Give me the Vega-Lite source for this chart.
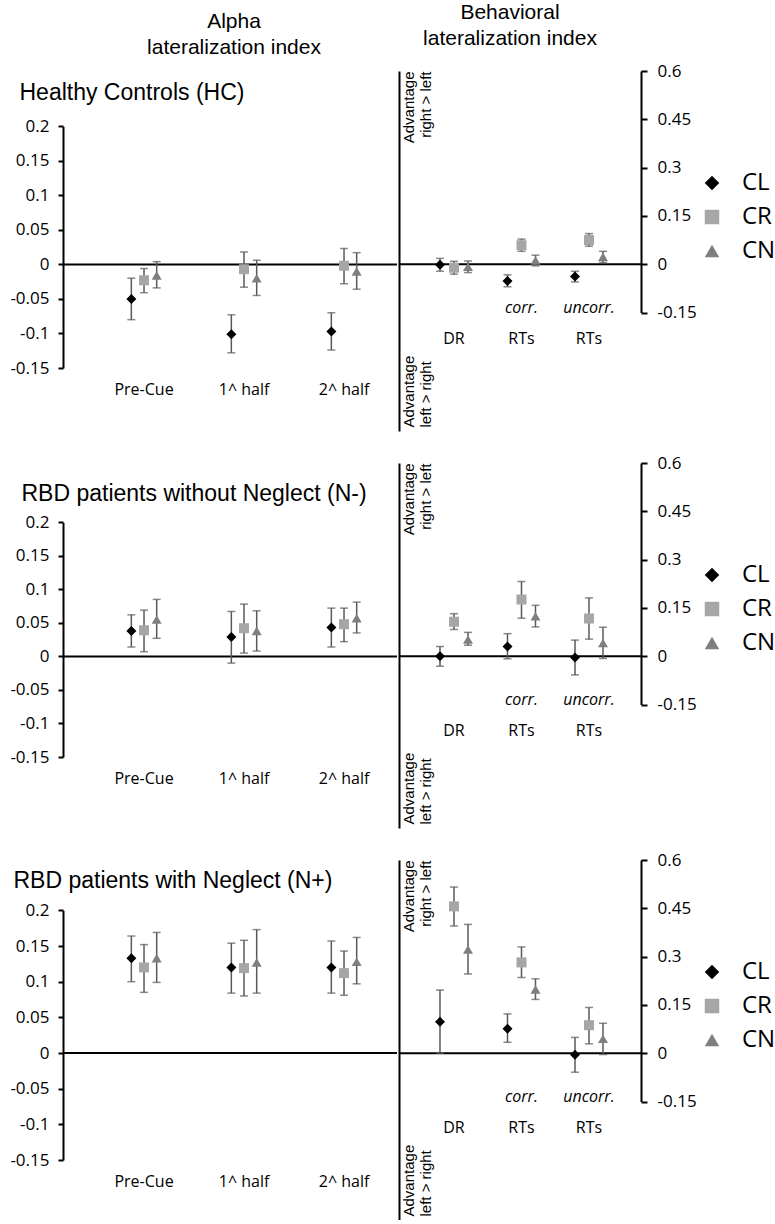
{
"$schema": "https://vega.github.io/schema/vega-lite/v6.json",
"background": "#ffffff",
"padding": {"left": 9, "top": 2, "right": 0, "bottom": 0},
"datasets": {
"pts": [
{"p":"HC","s":"a","m":"Pre-Cue","c":"CL","v":-0.050,"lo":-0.080,"hi":-0.020},
{"p":"HC","s":"a","m":"Pre-Cue","c":"CR","v":-0.023,"lo":-0.041,"hi":-0.006},
{"p":"HC","s":"a","m":"Pre-Cue","c":"CN","v":-0.016,"lo":-0.034,"hi":0.004},
{"p":"HC","s":"a","m":"1^ half","c":"CL","v":-0.101,"lo":-0.128,"hi":-0.073},
{"p":"HC","s":"a","m":"1^ half","c":"CR","v":-0.007,"lo":-0.033,"hi":0.018},
{"p":"HC","s":"a","m":"1^ half","c":"CN","v":-0.020,"lo":-0.045,"hi":0.006},
{"p":"HC","s":"a","m":"2^ half","c":"CL","v":-0.097,"lo":-0.124,"hi":-0.070},
{"p":"HC","s":"a","m":"2^ half","c":"CR","v":-0.002,"lo":-0.028,"hi":0.023},
{"p":"HC","s":"a","m":"2^ half","c":"CN","v":-0.010,"lo":-0.036,"hi":0.017},
{"p":"HC","s":"b","m":"DR","c":"CL","v":-0.002,"lo":-0.022,"hi":0.018},
{"p":"HC","s":"b","m":"DR","c":"CR","v":-0.011,"lo":-0.031,"hi":0.009},
{"p":"HC","s":"b","m":"DR","c":"CN","v":-0.008,"lo":-0.026,"hi":0.010},
{"p":"HC","s":"b","m":"corr. RTs","c":"CL","v":-0.052,"lo":-0.070,"hi":-0.033},
{"p":"HC","s":"b","m":"corr. RTs","c":"CR","v":0.059,"lo":0.040,"hi":0.078},
{"p":"HC","s":"b","m":"corr. RTs","c":"CN","v":0.012,"lo":-0.005,"hi":0.028},
{"p":"HC","s":"b","m":"uncorr. RTs","c":"CL","v":-0.038,"lo":-0.055,"hi":-0.022},
{"p":"HC","s":"b","m":"uncorr. RTs","c":"CR","v":0.075,"lo":0.056,"hi":0.095},
{"p":"HC","s":"b","m":"uncorr. RTs","c":"CN","v":0.023,"lo":0.005,"hi":0.040},
{"p":"N-","s":"a","m":"Pre-Cue","c":"CL","v":0.038,"lo":0.014,"hi":0.062},
{"p":"N-","s":"a","m":"Pre-Cue","c":"CR","v":0.039,"lo":0.007,"hi":0.069},
{"p":"N-","s":"a","m":"Pre-Cue","c":"CN","v":0.055,"lo":0.027,"hi":0.085},
{"p":"N-","s":"a","m":"1^ half","c":"CL","v":0.029,"lo":-0.010,"hi":0.067},
{"p":"N-","s":"a","m":"1^ half","c":"CR","v":0.042,"lo":0.005,"hi":0.078},
{"p":"N-","s":"a","m":"1^ half","c":"CN","v":0.038,"lo":0.008,"hi":0.068},
{"p":"N-","s":"a","m":"2^ half","c":"CL","v":0.043,"lo":0.014,"hi":0.072},
{"p":"N-","s":"a","m":"2^ half","c":"CR","v":0.048,"lo":0.022,"hi":0.072},
{"p":"N-","s":"a","m":"2^ half","c":"CN","v":0.057,"lo":0.035,"hi":0.081},
{"p":"N-","s":"b","m":"DR","c":"CL","v":0.000,"lo":-0.031,"hi":0.030},
{"p":"N-","s":"b","m":"DR","c":"CR","v":0.107,"lo":0.083,"hi":0.132},
{"p":"N-","s":"b","m":"DR","c":"CN","v":0.052,"lo":0.034,"hi":0.074},
{"p":"N-","s":"b","m":"corr. RTs","c":"CL","v":0.030,"lo":-0.008,"hi":0.070},
{"p":"N-","s":"b","m":"corr. RTs","c":"CR","v":0.176,"lo":0.118,"hi":0.232},
{"p":"N-","s":"b","m":"corr. RTs","c":"CN","v":0.124,"lo":0.091,"hi":0.158},
{"p":"N-","s":"b","m":"uncorr. RTs","c":"CL","v":-0.004,"lo":-0.058,"hi":0.050},
{"p":"N-","s":"b","m":"uncorr. RTs","c":"CR","v":0.117,"lo":0.053,"hi":0.181},
{"p":"N-","s":"b","m":"uncorr. RTs","c":"CN","v":0.041,"lo":-0.007,"hi":0.090},
{"p":"N+","s":"a","m":"Pre-Cue","c":"CL","v":0.133,"lo":0.100,"hi":0.164},
{"p":"N+","s":"a","m":"Pre-Cue","c":"CR","v":0.120,"lo":0.085,"hi":0.152},
{"p":"N+","s":"a","m":"Pre-Cue","c":"CN","v":0.133,"lo":0.099,"hi":0.169},
{"p":"N+","s":"a","m":"1^ half","c":"CL","v":0.120,"lo":0.084,"hi":0.154},
{"p":"N+","s":"a","m":"1^ half","c":"CR","v":0.119,"lo":0.080,"hi":0.158},
{"p":"N+","s":"a","m":"1^ half","c":"CN","v":0.127,"lo":0.084,"hi":0.173},
{"p":"N+","s":"a","m":"2^ half","c":"CL","v":0.120,"lo":0.084,"hi":0.157},
{"p":"N+","s":"a","m":"2^ half","c":"CR","v":0.112,"lo":0.081,"hi":0.143},
{"p":"N+","s":"a","m":"2^ half","c":"CN","v":0.128,"lo":0.097,"hi":0.162},
{"p":"N+","s":"b","m":"DR","c":"CL","v":0.098,"lo":0.000,"hi":0.196},
{"p":"N+","s":"b","m":"DR","c":"CR","v":0.456,"lo":0.395,"hi":0.516},
{"p":"N+","s":"b","m":"DR","c":"CN","v":0.322,"lo":0.246,"hi":0.400},
{"p":"N+","s":"b","m":"corr. RTs","c":"CL","v":0.076,"lo":0.034,"hi":0.122},
{"p":"N+","s":"b","m":"corr. RTs","c":"CR","v":0.282,"lo":0.235,"hi":0.330},
{"p":"N+","s":"b","m":"corr. RTs","c":"CN","v":0.198,"lo":0.167,"hi":0.231},
{"p":"N+","s":"b","m":"uncorr. RTs","c":"CL","v":-0.005,"lo":-0.059,"hi":0.049},
{"p":"N+","s":"b","m":"uncorr. RTs","c":"CR","v":0.087,"lo":0.029,"hi":0.142},
{"p":"N+","s":"b","m":"uncorr. RTs","c":"CN","v":0.045,"lo":-0.004,"hi":0.093}
],
"lbl": [
{"m":"DR","t1":"","t2":"DR"},
{"m":"corr. RTs","t1":"corr.","t2":"RTs"},
{"m":"uncorr. RTs","t1":"uncorr.","t2":"RTs"}
]
},
"spacing": 23,
"resolve": {"scale": {"x": "independent", "y": "independent", "xOffset": "independent", "color": "independent", "shape": "independent"}},
"vconcat": [
{
"spacing": 0,
"resolve": {"scale": {"x": "independent", "y": "independent", "xOffset": "independent", "color": "independent", "shape": "independent"}},
"hconcat": [
{
"width": 334, "height": 297,
"title": {"text": ["Alpha", "lateralization index"], "anchor": "middle", "frame": "group", "font": "Liberation Sans", "fontSize": 21, "fontWeight": "normal", "lineHeight": 26, "offset": 13, "dx": 4, "color": "#000"},
"layer": [
{"data": {"values": [{}]}, "mark": {"type": "rule", "stroke": "#000", "strokeWidth": 2},
 "encoding": {"y": {"datum": 0, "type": "quantitative", "scale": {"domain": [-0.15, 0.28], "nice": false, "zero": false},
  "axis": {"orient": "left", "values": [-0.15, -0.1, -0.05, 0, 0.05, 0.1, 0.15, 0.2], "labelExpr": "datum.value < 0 ? '-' + format(-datum.value, '~g') : format(datum.value, '~g')", "tickSize": 5, "tickWidth": 2, "tickColor": "#000", "domainColor": "#000", "domainWidth": 2, "domainDash": [241.7, 2000], "labelPadding": 9, "labelFont": "Open Sans", "labelFontSize": 17, "labelColor": "#000", "grid": false, "labelOverlap": false, "title": "Healthy Controls (HC)", "titleAngle": 0, "titleAlign": "left", "titleBaseline": "alphabetic", "titleX": -44, "titleY": 28, "titleFont": "Liberation Sans", "titleFontSize": 23, "titleFontWeight": "normal", "titleColor": "#000"}}}},
{"data": {"name": "pts"}, "transform": [{"filter": "datum.p == 'HC' && datum.s == 'a'"}],
 "mark": {"type": "rule", "stroke": "#595959", "strokeWidth": 1.5},
 "encoding": {
  "x": {"field": "m", "type": "nominal", "sort": null, "scale": {"domain": ["Pre-Cue", "1^ half", "2^ half"], "paddingInner": 0.62, "paddingOuter": 0.48, "align": 0.646}, "axis": {"title": null, "ticks": false, "domain": false, "labelAngle": 0, "labelPadding": 13, "bandPosition": 0.1667, "labelFontSize": 16, "labelFont": "Open Sans", "labelColor": "#000"}},
  "xOffset": {"field": "c", "type": "nominal", "scale": {"domain": ["CL", "CR", "CN"], "paddingInner": 0, "paddingOuter": 0}},
  "y": {"field": "lo", "type": "quantitative", "scale": {"domain": [-0.15, 0.28], "nice": false, "zero": false}},
  "y2": {"field": "hi"}}},
{"data": {"name": "pts"}, "transform": [{"filter": "datum.p == 'HC' && datum.s == 'a'"}],
 "mark": {"type": "tick", "color": "#595959", "size": 8, "thickness": 1.5},
 "encoding": {
  "x": {"field": "m", "type": "nominal", "sort": null, "scale": {"domain": ["Pre-Cue", "1^ half", "2^ half"], "paddingInner": 0.62, "paddingOuter": 0.48, "align": 0.646}, "axis": {"title": null, "ticks": false, "domain": false, "labelAngle": 0, "labelPadding": 13, "bandPosition": 0.1667, "labelFontSize": 16, "labelFont": "Open Sans", "labelColor": "#000"}},
  "xOffset": {"field": "c", "type": "nominal", "scale": {"domain": ["CL", "CR", "CN"], "paddingInner": 0, "paddingOuter": 0}},
  "y": {"field": "lo", "type": "quantitative", "scale": {"domain": [-0.15, 0.28], "nice": false, "zero": false}}}},
{"data": {"name": "pts"}, "transform": [{"filter": "datum.p == 'HC' && datum.s == 'a'"}],
 "mark": {"type": "tick", "color": "#595959", "size": 8, "thickness": 1.5},
 "encoding": {
  "x": {"field": "m", "type": "nominal", "sort": null, "scale": {"domain": ["Pre-Cue", "1^ half", "2^ half"], "paddingInner": 0.62, "paddingOuter": 0.48, "align": 0.646}, "axis": {"title": null, "ticks": false, "domain": false, "labelAngle": 0, "labelPadding": 13, "bandPosition": 0.1667, "labelFontSize": 16, "labelFont": "Open Sans", "labelColor": "#000"}},
  "xOffset": {"field": "c", "type": "nominal", "scale": {"domain": ["CL", "CR", "CN"], "paddingInner": 0, "paddingOuter": 0}},
  "y": {"field": "hi", "type": "quantitative", "scale": {"domain": [-0.15, 0.28], "nice": false, "zero": false}}}},
{"data": {"name": "pts"}, "transform": [{"filter": "datum.p == 'HC' && datum.s == 'a'"}],
 "mark": {"type": "point", "filled": true, "opacity": 1, "strokeWidth": 0, "size": 100},
 "encoding": {
  "x": {"field": "m", "type": "nominal", "sort": null, "scale": {"domain": ["Pre-Cue", "1^ half", "2^ half"], "paddingInner": 0.62, "paddingOuter": 0.48, "align": 0.646}, "axis": {"title": null, "ticks": false, "domain": false, "labelAngle": 0, "labelPadding": 13, "bandPosition": 0.1667, "labelFontSize": 16, "labelFont": "Open Sans", "labelColor": "#000"}},
  "xOffset": {"field": "c", "type": "nominal", "scale": {"domain": ["CL", "CR", "CN"], "paddingInner": 0, "paddingOuter": 0}},
  "y": {"field": "v", "type": "quantitative", "scale": {"domain": [-0.15, 0.28], "nice": false, "zero": false}},
  "color": {"field": "c", "type": "nominal", "scale": {"domain": ["CL", "CR", "CN"], "range": ["#000000", "#a6a6a6", "#7f7f7f"]}, "legend": null},
  "shape": {"field": "c", "type": "nominal", "scale": {"domain": ["CL", "CR", "CN"], "range": ["diamond", "square", "triangle-up"]}, "legend": null}}}
]
},
{
"width": 242, "height": 360,
"title": {"text": ["Behavioral", "lateralization index"], "anchor": "middle", "frame": "group", "font": "Liberation Sans", "fontSize": 21, "fontWeight": "normal", "lineHeight": 26, "offset": 13, "dx": -10, "color": "#000"},
"resolve": {"scale": {"y": "shared"}, "axis": {"y": "independent"}},
"layer": [
{"data": {"values": [{}]}, "mark": {"type": "rule", "stroke": "#000", "strokeWidth": 2},
 "encoding": {"y": {"datum": 0, "type": "quantitative", "scale": {"domain": [-0.518, 0.6], "nice": false, "zero": false},
  "axis": {"orient": "left", "ticks": false, "labels": false, "grid": false, "domainColor": "#000", "domainWidth": 2, "title": ["Advantage", "right > left"], "titleAngle": 270, "titleAlign": "right", "titleBaseline": "top", "titleX": 2, "titleY": 0, "titleFont": "Liberation Sans", "titleFontSize": 15, "titleFontWeight": "normal", "titleLineHeight": 17, "titleColor": "#000"}}}},
{"data": {"name": "pts"}, "transform": [{"filter": "datum.p == 'HC' && datum.s == 'b'"}],
 "mark": {"type": "rule", "stroke": "#595959", "strokeWidth": 1.5},
 "encoding": {
  "x": {"field": "m", "type": "nominal", "sort": null, "scale": {"domain": ["DR", "corr. RTs", "uncorr. RTs"], "paddingInner": 0.378, "paddingOuter": 0.4815, "align": 0.523}, "axis": {"labels": false, "ticks": false, "domain": false, "grid": false, "title": ["Advantage", "left > right"], "titleAngle": 270, "titleAlign": "left", "titleBaseline": "top", "titleX": 2, "titleY": -4, "titleFont": "Liberation Sans", "titleFontSize": 15, "titleFontWeight": "normal", "titleLineHeight": 17, "titleColor": "#000"}},
  "xOffset": {"field": "c", "type": "nominal", "scale": {"domain": ["CL", "CR", "CN"], "paddingInner": 0, "paddingOuter": 0}},
  "y": {"field": "lo", "type": "quantitative", "scale": {"domain": [-0.518, 0.6], "nice": false, "zero": false},
   "axis": {"orient": "right", "values": [-0.15, 0, 0.15, 0.3, 0.45, 0.6], "labelExpr": "datum.value < 0 ? '-' + format(-datum.value, '~g') : format(datum.value, '~g')", "tickSize": 6, "tickWidth": 2, "tickColor": "#000", "domainColor": "#000", "domainWidth": 2, "domainDash": [0, 118.5, 241.5, 2000], "labelPadding": 10, "labelFont": "Open Sans", "labelFontSize": 17, "labelColor": "#000", "grid": false, "labelOverlap": false, "title": null}},
  "y2": {"field": "hi"}}},
{"data": {"name": "pts"}, "transform": [{"filter": "datum.p == 'HC' && datum.s == 'b'"}],
 "mark": {"type": "tick", "color": "#595959", "size": 8, "thickness": 1.5},
 "encoding": {
  "x": {"field": "m", "type": "nominal", "sort": null, "scale": {"domain": ["DR", "corr. RTs", "uncorr. RTs"], "paddingInner": 0.378, "paddingOuter": 0.4815, "align": 0.523}, "axis": {"labels": false, "ticks": false, "domain": false, "grid": false, "title": ["Advantage", "left > right"], "titleAngle": 270, "titleAlign": "left", "titleBaseline": "top", "titleX": 2, "titleY": -4, "titleFont": "Liberation Sans", "titleFontSize": 15, "titleFontWeight": "normal", "titleLineHeight": 17, "titleColor": "#000"}},
  "xOffset": {"field": "c", "type": "nominal", "scale": {"domain": ["CL", "CR", "CN"], "paddingInner": 0, "paddingOuter": 0}},
  "y": {"field": "lo", "type": "quantitative", "scale": {"domain": [-0.518, 0.6], "nice": false, "zero": false}, "axis": null}}},
{"data": {"name": "pts"}, "transform": [{"filter": "datum.p == 'HC' && datum.s == 'b'"}],
 "mark": {"type": "tick", "color": "#595959", "size": 8, "thickness": 1.5},
 "encoding": {
  "x": {"field": "m", "type": "nominal", "sort": null, "scale": {"domain": ["DR", "corr. RTs", "uncorr. RTs"], "paddingInner": 0.378, "paddingOuter": 0.4815, "align": 0.523}, "axis": {"labels": false, "ticks": false, "domain": false, "grid": false, "title": ["Advantage", "left > right"], "titleAngle": 270, "titleAlign": "left", "titleBaseline": "top", "titleX": 2, "titleY": -4, "titleFont": "Liberation Sans", "titleFontSize": 15, "titleFontWeight": "normal", "titleLineHeight": 17, "titleColor": "#000"}},
  "xOffset": {"field": "c", "type": "nominal", "scale": {"domain": ["CL", "CR", "CN"], "paddingInner": 0, "paddingOuter": 0}},
  "y": {"field": "hi", "type": "quantitative", "scale": {"domain": [-0.518, 0.6], "nice": false, "zero": false}, "axis": null}}},
{"data": {"name": "pts"}, "transform": [{"filter": "datum.p == 'HC' && datum.s == 'b'"}],
 "mark": {"type": "point", "filled": true, "opacity": 1, "strokeWidth": 0, "size": 100},
 "encoding": {
  "x": {"field": "m", "type": "nominal", "sort": null, "scale": {"domain": ["DR", "corr. RTs", "uncorr. RTs"], "paddingInner": 0.378, "paddingOuter": 0.4815, "align": 0.523}, "axis": {"labels": false, "ticks": false, "domain": false, "grid": false, "title": ["Advantage", "left > right"], "titleAngle": 270, "titleAlign": "left", "titleBaseline": "top", "titleX": 2, "titleY": -4, "titleFont": "Liberation Sans", "titleFontSize": 15, "titleFontWeight": "normal", "titleLineHeight": 17, "titleColor": "#000"}},
  "xOffset": {"field": "c", "type": "nominal", "scale": {"domain": ["CL", "CR", "CN"], "paddingInner": 0, "paddingOuter": 0}},
  "y": {"field": "v", "type": "quantitative", "scale": {"domain": [-0.518, 0.6], "nice": false, "zero": false}, "axis": null},
  "color": {"field": "c", "type": "nominal", "scale": {"domain": ["CL", "CR", "CN"], "range": ["#000000", "#a6a6a6", "#7f7f7f"]}, "legend": {"title": null, "orient": "none", "legendX": 301, "legendY": 100}},
  "shape": {"field": "c", "type": "nominal", "scale": {"domain": ["CL", "CR", "CN"], "range": ["diamond", "square", "triangle-up"]}, "legend": {"title": null, "orient": "none", "legendX": 301, "legendY": 100}}}},
{"data": {"name": "lbl"},
 "mark": {"type": "text", "font": "Open Sans", "fontSize": 16, "fontStyle": "italic", "baseline": "middle", "color": "#000"},
 "encoding": {
  "x": {"field": "m", "type": "nominal", "sort": null, "scale": {"domain": ["DR", "corr. RTs", "uncorr. RTs"], "paddingInner": 0.378, "paddingOuter": 0.4815, "align": 0.523}, "axis": {"labels": false, "ticks": false, "domain": false, "grid": false, "title": ["Advantage", "left > right"], "titleAngle": 270, "titleAlign": "left", "titleBaseline": "top", "titleX": 2, "titleY": -4, "titleFont": "Liberation Sans", "titleFontSize": 15, "titleFontWeight": "normal", "titleLineHeight": 17, "titleColor": "#000"}},
  "y": {"datum": -0.137, "type": "quantitative", "scale": {"domain": [-0.518, 0.6], "nice": false, "zero": false}, "axis": null},
  "text": {"field": "t1"}}},
{"data": {"name": "lbl"},
 "mark": {"type": "text", "font": "Open Sans", "fontSize": 16, "baseline": "middle", "color": "#000"},
 "encoding": {
  "x": {"field": "m", "type": "nominal", "sort": null, "scale": {"domain": ["DR", "corr. RTs", "uncorr. RTs"], "paddingInner": 0.378, "paddingOuter": 0.4815, "align": 0.523}, "axis": {"labels": false, "ticks": false, "domain": false, "grid": false, "title": ["Advantage", "left > right"], "titleAngle": 270, "titleAlign": "left", "titleBaseline": "top", "titleX": 2, "titleY": -4, "titleFont": "Liberation Sans", "titleFontSize": 15, "titleFontWeight": "normal", "titleLineHeight": 17, "titleColor": "#000"}},
  "y": {"datum": -0.232, "type": "quantitative", "scale": {"domain": [-0.518, 0.6], "nice": false, "zero": false}, "axis": null},
  "text": {"field": "t2"}}}
]
}
]
},
{
"spacing": 0,
"resolve": {"scale": {"x": "independent", "y": "independent", "xOffset": "independent", "color": "independent", "shape": "independent"}},
"hconcat": [
{
"width": 334, "height": 294,
"layer": [
{"data": {"values": [{}]}, "mark": {"type": "rule", "stroke": "#000", "strokeWidth": 2},
 "encoding": {"y": {"datum": 0, "type": "quantitative", "scale": {"domain": [-0.15, 0.2884], "nice": false, "zero": false},
  "axis": {"orient": "left", "values": [-0.15, -0.1, -0.05, 0, 0.05, 0.1, 0.15, 0.2], "labelExpr": "datum.value < 0 ? '-' + format(-datum.value, '~g') : format(datum.value, '~g')", "tickSize": 5, "tickWidth": 2, "tickColor": "#000", "domainColor": "#000", "domainWidth": 2, "domainDash": [234.7, 2000], "labelPadding": 9, "labelFont": "Open Sans", "labelFontSize": 17, "labelColor": "#000", "grid": false, "labelOverlap": false, "title": "RBD patients without Neglect (N-)", "titleAngle": 0, "titleAlign": "left", "titleBaseline": "alphabetic", "titleX": -42, "titleY": 37, "titleFont": "Liberation Sans", "titleFontSize": 23, "titleFontWeight": "normal", "titleColor": "#000"}}}},
{"data": {"name": "pts"}, "transform": [{"filter": "datum.p == 'N-' && datum.s == 'a'"}],
 "mark": {"type": "rule", "stroke": "#595959", "strokeWidth": 1.5},
 "encoding": {
  "x": {"field": "m", "type": "nominal", "sort": null, "scale": {"domain": ["Pre-Cue", "1^ half", "2^ half"], "paddingInner": 0.62, "paddingOuter": 0.48, "align": 0.646}, "axis": {"title": null, "ticks": false, "domain": false, "labelAngle": 0, "labelPadding": 13, "bandPosition": 0.1667, "labelFontSize": 16, "labelFont": "Open Sans", "labelColor": "#000"}},
  "xOffset": {"field": "c", "type": "nominal", "scale": {"domain": ["CL", "CR", "CN"], "paddingInner": 0, "paddingOuter": 0}},
  "y": {"field": "lo", "type": "quantitative", "scale": {"domain": [-0.15, 0.2884], "nice": false, "zero": false}},
  "y2": {"field": "hi"}}},
{"data": {"name": "pts"}, "transform": [{"filter": "datum.p == 'N-' && datum.s == 'a'"}],
 "mark": {"type": "tick", "color": "#595959", "size": 8, "thickness": 1.5},
 "encoding": {
  "x": {"field": "m", "type": "nominal", "sort": null, "scale": {"domain": ["Pre-Cue", "1^ half", "2^ half"], "paddingInner": 0.62, "paddingOuter": 0.48, "align": 0.646}, "axis": {"title": null, "ticks": false, "domain": false, "labelAngle": 0, "labelPadding": 13, "bandPosition": 0.1667, "labelFontSize": 16, "labelFont": "Open Sans", "labelColor": "#000"}},
  "xOffset": {"field": "c", "type": "nominal", "scale": {"domain": ["CL", "CR", "CN"], "paddingInner": 0, "paddingOuter": 0}},
  "y": {"field": "lo", "type": "quantitative", "scale": {"domain": [-0.15, 0.2884], "nice": false, "zero": false}}}},
{"data": {"name": "pts"}, "transform": [{"filter": "datum.p == 'N-' && datum.s == 'a'"}],
 "mark": {"type": "tick", "color": "#595959", "size": 8, "thickness": 1.5},
 "encoding": {
  "x": {"field": "m", "type": "nominal", "sort": null, "scale": {"domain": ["Pre-Cue", "1^ half", "2^ half"], "paddingInner": 0.62, "paddingOuter": 0.48, "align": 0.646}, "axis": {"title": null, "ticks": false, "domain": false, "labelAngle": 0, "labelPadding": 13, "bandPosition": 0.1667, "labelFontSize": 16, "labelFont": "Open Sans", "labelColor": "#000"}},
  "xOffset": {"field": "c", "type": "nominal", "scale": {"domain": ["CL", "CR", "CN"], "paddingInner": 0, "paddingOuter": 0}},
  "y": {"field": "hi", "type": "quantitative", "scale": {"domain": [-0.15, 0.2884], "nice": false, "zero": false}}}},
{"data": {"name": "pts"}, "transform": [{"filter": "datum.p == 'N-' && datum.s == 'a'"}],
 "mark": {"type": "point", "filled": true, "opacity": 1, "strokeWidth": 0, "size": 100},
 "encoding": {
  "x": {"field": "m", "type": "nominal", "sort": null, "scale": {"domain": ["Pre-Cue", "1^ half", "2^ half"], "paddingInner": 0.62, "paddingOuter": 0.48, "align": 0.646}, "axis": {"title": null, "ticks": false, "domain": false, "labelAngle": 0, "labelPadding": 13, "bandPosition": 0.1667, "labelFontSize": 16, "labelFont": "Open Sans", "labelColor": "#000"}},
  "xOffset": {"field": "c", "type": "nominal", "scale": {"domain": ["CL", "CR", "CN"], "paddingInner": 0, "paddingOuter": 0}},
  "y": {"field": "v", "type": "quantitative", "scale": {"domain": [-0.15, 0.2884], "nice": false, "zero": false}},
  "color": {"field": "c", "type": "nominal", "scale": {"domain": ["CL", "CR", "CN"], "range": ["#000000", "#a6a6a6", "#7f7f7f"]}, "legend": null},
  "shape": {"field": "c", "type": "nominal", "scale": {"domain": ["CL", "CR", "CN"], "range": ["diamond", "square", "triangle-up"]}, "legend": null}}}
]
},
{
"width": 242, "height": 365,
"resolve": {"scale": {"y": "shared"}, "axis": {"y": "independent"}},
"layer": [
{"data": {"values": [{}]}, "mark": {"type": "rule", "stroke": "#000", "strokeWidth": 2},
 "encoding": {"y": {"datum": 0, "type": "quantitative", "scale": {"domain": [-0.5335, 0.6], "nice": false, "zero": false},
  "axis": {"orient": "left", "ticks": false, "labels": false, "grid": false, "domainColor": "#000", "domainWidth": 2, "title": ["Advantage", "right > left"], "titleAngle": 270, "titleAlign": "right", "titleBaseline": "top", "titleX": 2, "titleY": 0, "titleFont": "Liberation Sans", "titleFontSize": 15, "titleFontWeight": "normal", "titleLineHeight": 17, "titleColor": "#000"}}}},
{"data": {"name": "pts"}, "transform": [{"filter": "datum.p == 'N-' && datum.s == 'b'"}],
 "mark": {"type": "rule", "stroke": "#595959", "strokeWidth": 1.5},
 "encoding": {
  "x": {"field": "m", "type": "nominal", "sort": null, "scale": {"domain": ["DR", "corr. RTs", "uncorr. RTs"], "paddingInner": 0.378, "paddingOuter": 0.4815, "align": 0.523}, "axis": {"labels": false, "ticks": false, "domain": false, "grid": false, "title": ["Advantage", "left > right"], "titleAngle": 270, "titleAlign": "left", "titleBaseline": "top", "titleX": 2, "titleY": -4, "titleFont": "Liberation Sans", "titleFontSize": 15, "titleFontWeight": "normal", "titleLineHeight": 17, "titleColor": "#000"}},
  "xOffset": {"field": "c", "type": "nominal", "scale": {"domain": ["CL", "CR", "CN"], "paddingInner": 0, "paddingOuter": 0}},
  "y": {"field": "lo", "type": "quantitative", "scale": {"domain": [-0.5335, 0.6], "nice": false, "zero": false},
   "axis": {"orient": "right", "values": [-0.15, 0, 0.15, 0.3, 0.45, 0.6], "labelExpr": "datum.value < 0 ? '-' + format(-datum.value, '~g') : format(datum.value, '~g')", "tickSize": 6, "tickWidth": 2, "tickColor": "#000", "domainColor": "#000", "domainWidth": 2, "domainDash": [0, 123.5, 241.5, 2000], "labelPadding": 10, "labelFont": "Open Sans", "labelFontSize": 17, "labelColor": "#000", "grid": false, "labelOverlap": false, "title": null}},
  "y2": {"field": "hi"}}},
{"data": {"name": "pts"}, "transform": [{"filter": "datum.p == 'N-' && datum.s == 'b'"}],
 "mark": {"type": "tick", "color": "#595959", "size": 8, "thickness": 1.5},
 "encoding": {
  "x": {"field": "m", "type": "nominal", "sort": null, "scale": {"domain": ["DR", "corr. RTs", "uncorr. RTs"], "paddingInner": 0.378, "paddingOuter": 0.4815, "align": 0.523}, "axis": {"labels": false, "ticks": false, "domain": false, "grid": false, "title": ["Advantage", "left > right"], "titleAngle": 270, "titleAlign": "left", "titleBaseline": "top", "titleX": 2, "titleY": -4, "titleFont": "Liberation Sans", "titleFontSize": 15, "titleFontWeight": "normal", "titleLineHeight": 17, "titleColor": "#000"}},
  "xOffset": {"field": "c", "type": "nominal", "scale": {"domain": ["CL", "CR", "CN"], "paddingInner": 0, "paddingOuter": 0}},
  "y": {"field": "lo", "type": "quantitative", "scale": {"domain": [-0.5335, 0.6], "nice": false, "zero": false}, "axis": null}}},
{"data": {"name": "pts"}, "transform": [{"filter": "datum.p == 'N-' && datum.s == 'b'"}],
 "mark": {"type": "tick", "color": "#595959", "size": 8, "thickness": 1.5},
 "encoding": {
  "x": {"field": "m", "type": "nominal", "sort": null, "scale": {"domain": ["DR", "corr. RTs", "uncorr. RTs"], "paddingInner": 0.378, "paddingOuter": 0.4815, "align": 0.523}, "axis": {"labels": false, "ticks": false, "domain": false, "grid": false, "title": ["Advantage", "left > right"], "titleAngle": 270, "titleAlign": "left", "titleBaseline": "top", "titleX": 2, "titleY": -4, "titleFont": "Liberation Sans", "titleFontSize": 15, "titleFontWeight": "normal", "titleLineHeight": 17, "titleColor": "#000"}},
  "xOffset": {"field": "c", "type": "nominal", "scale": {"domain": ["CL", "CR", "CN"], "paddingInner": 0, "paddingOuter": 0}},
  "y": {"field": "hi", "type": "quantitative", "scale": {"domain": [-0.5335, 0.6], "nice": false, "zero": false}, "axis": null}}},
{"data": {"name": "pts"}, "transform": [{"filter": "datum.p == 'N-' && datum.s == 'b'"}],
 "mark": {"type": "point", "filled": true, "opacity": 1, "strokeWidth": 0, "size": 100},
 "encoding": {
  "x": {"field": "m", "type": "nominal", "sort": null, "scale": {"domain": ["DR", "corr. RTs", "uncorr. RTs"], "paddingInner": 0.378, "paddingOuter": 0.4815, "align": 0.523}, "axis": {"labels": false, "ticks": false, "domain": false, "grid": false, "title": ["Advantage", "left > right"], "titleAngle": 270, "titleAlign": "left", "titleBaseline": "top", "titleX": 2, "titleY": -4, "titleFont": "Liberation Sans", "titleFontSize": 15, "titleFontWeight": "normal", "titleLineHeight": 17, "titleColor": "#000"}},
  "xOffset": {"field": "c", "type": "nominal", "scale": {"domain": ["CL", "CR", "CN"], "paddingInner": 0, "paddingOuter": 0}},
  "y": {"field": "v", "type": "quantitative", "scale": {"domain": [-0.5335, 0.6], "nice": false, "zero": false}, "axis": null},
  "color": {"field": "c", "type": "nominal", "scale": {"domain": ["CL", "CR", "CN"], "range": ["#000000", "#a6a6a6", "#7f7f7f"]}, "legend": {"title": null, "orient": "none", "legendX": 301, "legendY": 100}},
  "shape": {"field": "c", "type": "nominal", "scale": {"domain": ["CL", "CR", "CN"], "range": ["diamond", "square", "triangle-up"]}, "legend": {"title": null, "orient": "none", "legendX": 301, "legendY": 100}}}},
{"data": {"name": "lbl"},
 "mark": {"type": "text", "font": "Open Sans", "fontSize": 16, "fontStyle": "italic", "baseline": "middle", "color": "#000"},
 "encoding": {
  "x": {"field": "m", "type": "nominal", "sort": null, "scale": {"domain": ["DR", "corr. RTs", "uncorr. RTs"], "paddingInner": 0.378, "paddingOuter": 0.4815, "align": 0.523}, "axis": {"labels": false, "ticks": false, "domain": false, "grid": false, "title": ["Advantage", "left > right"], "titleAngle": 270, "titleAlign": "left", "titleBaseline": "top", "titleX": 2, "titleY": -4, "titleFont": "Liberation Sans", "titleFontSize": 15, "titleFontWeight": "normal", "titleLineHeight": 17, "titleColor": "#000"}},
  "y": {"datum": -0.137, "type": "quantitative", "scale": {"domain": [-0.5335, 0.6], "nice": false, "zero": false}, "axis": null},
  "text": {"field": "t1"}}},
{"data": {"name": "lbl"},
 "mark": {"type": "text", "font": "Open Sans", "fontSize": 16, "baseline": "middle", "color": "#000"},
 "encoding": {
  "x": {"field": "m", "type": "nominal", "sort": null, "scale": {"domain": ["DR", "corr. RTs", "uncorr. RTs"], "paddingInner": 0.378, "paddingOuter": 0.4815, "align": 0.523}, "axis": {"labels": false, "ticks": false, "domain": false, "grid": false, "title": ["Advantage", "left > right"], "titleAngle": 270, "titleAlign": "left", "titleBaseline": "top", "titleX": 2, "titleY": -4, "titleFont": "Liberation Sans", "titleFontSize": 15, "titleFontWeight": "normal", "titleLineHeight": 17, "titleColor": "#000"}},
  "y": {"datum": -0.232, "type": "quantitative", "scale": {"domain": [-0.5335, 0.6], "nice": false, "zero": false}, "axis": null},
  "text": {"field": "t2"}}}
]
}
]
},
{
"spacing": 0,
"resolve": {"scale": {"x": "independent", "y": "independent", "xOffset": "independent", "color": "independent", "shape": "independent"}},
"hconcat": [
{
"width": 334, "height": 300,
"layer": [
{"data": {"values": [{}]}, "mark": {"type": "rule", "stroke": "#000", "strokeWidth": 2},
 "encoding": {"y": {"datum": 0, "type": "quantitative", "scale": {"domain": [-0.15, 0.2706], "nice": false, "zero": false},
  "axis": {"orient": "left", "values": [-0.15, -0.1, -0.05, 0, 0.05, 0.1, 0.15, 0.2], "labelExpr": "datum.value < 0 ? '-' + format(-datum.value, '~g') : format(datum.value, '~g')", "tickSize": 5, "tickWidth": 2, "tickColor": "#000", "domainColor": "#000", "domainWidth": 2, "domainDash": [249.7, 2000], "labelPadding": 9, "labelFont": "Open Sans", "labelFontSize": 17, "labelColor": "#000", "grid": false, "labelOverlap": false, "title": "RBD patients with Neglect (N+)", "titleAngle": 0, "titleAlign": "left", "titleBaseline": "alphabetic", "titleX": -50, "titleY": 27, "titleFont": "Liberation Sans", "titleFontSize": 23, "titleFontWeight": "normal", "titleColor": "#000"}}}},
{"data": {"name": "pts"}, "transform": [{"filter": "datum.p == 'N+' && datum.s == 'a'"}],
 "mark": {"type": "rule", "stroke": "#595959", "strokeWidth": 1.5},
 "encoding": {
  "x": {"field": "m", "type": "nominal", "sort": null, "scale": {"domain": ["Pre-Cue", "1^ half", "2^ half"], "paddingInner": 0.62, "paddingOuter": 0.48, "align": 0.646}, "axis": {"title": null, "ticks": false, "domain": false, "labelAngle": 0, "labelPadding": 13, "bandPosition": 0.1667, "labelFontSize": 16, "labelFont": "Open Sans", "labelColor": "#000"}},
  "xOffset": {"field": "c", "type": "nominal", "scale": {"domain": ["CL", "CR", "CN"], "paddingInner": 0, "paddingOuter": 0}},
  "y": {"field": "lo", "type": "quantitative", "scale": {"domain": [-0.15, 0.2706], "nice": false, "zero": false}},
  "y2": {"field": "hi"}}},
{"data": {"name": "pts"}, "transform": [{"filter": "datum.p == 'N+' && datum.s == 'a'"}],
 "mark": {"type": "tick", "color": "#595959", "size": 8, "thickness": 1.5},
 "encoding": {
  "x": {"field": "m", "type": "nominal", "sort": null, "scale": {"domain": ["Pre-Cue", "1^ half", "2^ half"], "paddingInner": 0.62, "paddingOuter": 0.48, "align": 0.646}, "axis": {"title": null, "ticks": false, "domain": false, "labelAngle": 0, "labelPadding": 13, "bandPosition": 0.1667, "labelFontSize": 16, "labelFont": "Open Sans", "labelColor": "#000"}},
  "xOffset": {"field": "c", "type": "nominal", "scale": {"domain": ["CL", "CR", "CN"], "paddingInner": 0, "paddingOuter": 0}},
  "y": {"field": "lo", "type": "quantitative", "scale": {"domain": [-0.15, 0.2706], "nice": false, "zero": false}}}},
{"data": {"name": "pts"}, "transform": [{"filter": "datum.p == 'N+' && datum.s == 'a'"}],
 "mark": {"type": "tick", "color": "#595959", "size": 8, "thickness": 1.5},
 "encoding": {
  "x": {"field": "m", "type": "nominal", "sort": null, "scale": {"domain": ["Pre-Cue", "1^ half", "2^ half"], "paddingInner": 0.62, "paddingOuter": 0.48, "align": 0.646}, "axis": {"title": null, "ticks": false, "domain": false, "labelAngle": 0, "labelPadding": 13, "bandPosition": 0.1667, "labelFontSize": 16, "labelFont": "Open Sans", "labelColor": "#000"}},
  "xOffset": {"field": "c", "type": "nominal", "scale": {"domain": ["CL", "CR", "CN"], "paddingInner": 0, "paddingOuter": 0}},
  "y": {"field": "hi", "type": "quantitative", "scale": {"domain": [-0.15, 0.2706], "nice": false, "zero": false}}}},
{"data": {"name": "pts"}, "transform": [{"filter": "datum.p == 'N+' && datum.s == 'a'"}],
 "mark": {"type": "point", "filled": true, "opacity": 1, "strokeWidth": 0, "size": 100},
 "encoding": {
  "x": {"field": "m", "type": "nominal", "sort": null, "scale": {"domain": ["Pre-Cue", "1^ half", "2^ half"], "paddingInner": 0.62, "paddingOuter": 0.48, "align": 0.646}, "axis": {"title": null, "ticks": false, "domain": false, "labelAngle": 0, "labelPadding": 13, "bandPosition": 0.1667, "labelFontSize": 16, "labelFont": "Open Sans", "labelColor": "#000"}},
  "xOffset": {"field": "c", "type": "nominal", "scale": {"domain": ["CL", "CR", "CN"], "paddingInner": 0, "paddingOuter": 0}},
  "y": {"field": "v", "type": "quantitative", "scale": {"domain": [-0.15, 0.2706], "nice": false, "zero": false}},
  "color": {"field": "c", "type": "nominal", "scale": {"domain": ["CL", "CR", "CN"], "range": ["#000000", "#a6a6a6", "#7f7f7f"]}, "legend": null},
  "shape": {"field": "c", "type": "nominal", "scale": {"domain": ["CL", "CR", "CN"], "range": ["diamond", "square", "triangle-up"]}, "legend": null}}}
]
},
{
"width": 242, "height": 360,
"resolve": {"scale": {"y": "shared"}, "axis": {"y": "independent"}},
"layer": [
{"data": {"values": [{}]}, "mark": {"type": "rule", "stroke": "#000", "strokeWidth": 2},
 "encoding": {"y": {"datum": 0, "type": "quantitative", "scale": {"domain": [-0.518, 0.6], "nice": false, "zero": false},
  "axis": {"orient": "left", "ticks": false, "labels": false, "grid": false, "domainColor": "#000", "domainWidth": 2, "title": ["Advantage", "right > left"], "titleAngle": 270, "titleAlign": "right", "titleBaseline": "top", "titleX": 2, "titleY": 0, "titleFont": "Liberation Sans", "titleFontSize": 15, "titleFontWeight": "normal", "titleLineHeight": 17, "titleColor": "#000"}}}},
{"data": {"name": "pts"}, "transform": [{"filter": "datum.p == 'N+' && datum.s == 'b'"}],
 "mark": {"type": "rule", "stroke": "#595959", "strokeWidth": 1.5},
 "encoding": {
  "x": {"field": "m", "type": "nominal", "sort": null, "scale": {"domain": ["DR", "corr. RTs", "uncorr. RTs"], "paddingInner": 0.378, "paddingOuter": 0.4815, "align": 0.523}, "axis": {"labels": false, "ticks": false, "domain": false, "grid": false, "title": ["Advantage", "left > right"], "titleAngle": 270, "titleAlign": "left", "titleBaseline": "top", "titleX": 2, "titleY": -4, "titleFont": "Liberation Sans", "titleFontSize": 15, "titleFontWeight": "normal", "titleLineHeight": 17, "titleColor": "#000"}},
  "xOffset": {"field": "c", "type": "nominal", "scale": {"domain": ["CL", "CR", "CN"], "paddingInner": 0, "paddingOuter": 0}},
  "y": {"field": "lo", "type": "quantitative", "scale": {"domain": [-0.518, 0.6], "nice": false, "zero": false},
   "axis": {"orient": "right", "values": [-0.15, 0, 0.15, 0.3, 0.45, 0.6], "labelExpr": "datum.value < 0 ? '-' + format(-datum.value, '~g') : format(datum.value, '~g')", "tickSize": 6, "tickWidth": 2, "tickColor": "#000", "domainColor": "#000", "domainWidth": 2, "domainDash": [0, 118.5, 241.5, 2000], "labelPadding": 10, "labelFont": "Open Sans", "labelFontSize": 17, "labelColor": "#000", "grid": false, "labelOverlap": false, "title": null}},
  "y2": {"field": "hi"}}},
{"data": {"name": "pts"}, "transform": [{"filter": "datum.p == 'N+' && datum.s == 'b'"}],
 "mark": {"type": "tick", "color": "#595959", "size": 8, "thickness": 1.5},
 "encoding": {
  "x": {"field": "m", "type": "nominal", "sort": null, "scale": {"domain": ["DR", "corr. RTs", "uncorr. RTs"], "paddingInner": 0.378, "paddingOuter": 0.4815, "align": 0.523}, "axis": {"labels": false, "ticks": false, "domain": false, "grid": false, "title": ["Advantage", "left > right"], "titleAngle": 270, "titleAlign": "left", "titleBaseline": "top", "titleX": 2, "titleY": -4, "titleFont": "Liberation Sans", "titleFontSize": 15, "titleFontWeight": "normal", "titleLineHeight": 17, "titleColor": "#000"}},
  "xOffset": {"field": "c", "type": "nominal", "scale": {"domain": ["CL", "CR", "CN"], "paddingInner": 0, "paddingOuter": 0}},
  "y": {"field": "lo", "type": "quantitative", "scale": {"domain": [-0.518, 0.6], "nice": false, "zero": false}, "axis": null}}},
{"data": {"name": "pts"}, "transform": [{"filter": "datum.p == 'N+' && datum.s == 'b'"}],
 "mark": {"type": "tick", "color": "#595959", "size": 8, "thickness": 1.5},
 "encoding": {
  "x": {"field": "m", "type": "nominal", "sort": null, "scale": {"domain": ["DR", "corr. RTs", "uncorr. RTs"], "paddingInner": 0.378, "paddingOuter": 0.4815, "align": 0.523}, "axis": {"labels": false, "ticks": false, "domain": false, "grid": false, "title": ["Advantage", "left > right"], "titleAngle": 270, "titleAlign": "left", "titleBaseline": "top", "titleX": 2, "titleY": -4, "titleFont": "Liberation Sans", "titleFontSize": 15, "titleFontWeight": "normal", "titleLineHeight": 17, "titleColor": "#000"}},
  "xOffset": {"field": "c", "type": "nominal", "scale": {"domain": ["CL", "CR", "CN"], "paddingInner": 0, "paddingOuter": 0}},
  "y": {"field": "hi", "type": "quantitative", "scale": {"domain": [-0.518, 0.6], "nice": false, "zero": false}, "axis": null}}},
{"data": {"name": "pts"}, "transform": [{"filter": "datum.p == 'N+' && datum.s == 'b'"}],
 "mark": {"type": "point", "filled": true, "opacity": 1, "strokeWidth": 0, "size": 100},
 "encoding": {
  "x": {"field": "m", "type": "nominal", "sort": null, "scale": {"domain": ["DR", "corr. RTs", "uncorr. RTs"], "paddingInner": 0.378, "paddingOuter": 0.4815, "align": 0.523}, "axis": {"labels": false, "ticks": false, "domain": false, "grid": false, "title": ["Advantage", "left > right"], "titleAngle": 270, "titleAlign": "left", "titleBaseline": "top", "titleX": 2, "titleY": -4, "titleFont": "Liberation Sans", "titleFontSize": 15, "titleFontWeight": "normal", "titleLineHeight": 17, "titleColor": "#000"}},
  "xOffset": {"field": "c", "type": "nominal", "scale": {"domain": ["CL", "CR", "CN"], "paddingInner": 0, "paddingOuter": 0}},
  "y": {"field": "v", "type": "quantitative", "scale": {"domain": [-0.518, 0.6], "nice": false, "zero": false}, "axis": null},
  "color": {"field": "c", "type": "nominal", "scale": {"domain": ["CL", "CR", "CN"], "range": ["#000000", "#a6a6a6", "#7f7f7f"]}, "legend": {"title": null, "orient": "none", "legendX": 301, "legendY": 100}},
  "shape": {"field": "c", "type": "nominal", "scale": {"domain": ["CL", "CR", "CN"], "range": ["diamond", "square", "triangle-up"]}, "legend": {"title": null, "orient": "none", "legendX": 301, "legendY": 100}}}},
{"data": {"name": "lbl"},
 "mark": {"type": "text", "font": "Open Sans", "fontSize": 16, "fontStyle": "italic", "baseline": "middle", "color": "#000"},
 "encoding": {
  "x": {"field": "m", "type": "nominal", "sort": null, "scale": {"domain": ["DR", "corr. RTs", "uncorr. RTs"], "paddingInner": 0.378, "paddingOuter": 0.4815, "align": 0.523}, "axis": {"labels": false, "ticks": false, "domain": false, "grid": false, "title": ["Advantage", "left > right"], "titleAngle": 270, "titleAlign": "left", "titleBaseline": "top", "titleX": 2, "titleY": -4, "titleFont": "Liberation Sans", "titleFontSize": 15, "titleFontWeight": "normal", "titleLineHeight": 17, "titleColor": "#000"}},
  "y": {"datum": -0.137, "type": "quantitative", "scale": {"domain": [-0.518, 0.6], "nice": false, "zero": false}, "axis": null},
  "text": {"field": "t1"}}},
{"data": {"name": "lbl"},
 "mark": {"type": "text", "font": "Open Sans", "fontSize": 16, "baseline": "middle", "color": "#000"},
 "encoding": {
  "x": {"field": "m", "type": "nominal", "sort": null, "scale": {"domain": ["DR", "corr. RTs", "uncorr. RTs"], "paddingInner": 0.378, "paddingOuter": 0.4815, "align": 0.523}, "axis": {"labels": false, "ticks": false, "domain": false, "grid": false, "title": ["Advantage", "left > right"], "titleAngle": 270, "titleAlign": "left", "titleBaseline": "top", "titleX": 2, "titleY": -4, "titleFont": "Liberation Sans", "titleFontSize": 15, "titleFontWeight": "normal", "titleLineHeight": 17, "titleColor": "#000"}},
  "y": {"datum": -0.232, "type": "quantitative", "scale": {"domain": [-0.518, 0.6], "nice": false, "zero": false}, "axis": null},
  "text": {"field": "t2"}}}
]
}
]
}
],
"config": {
"view": {"stroke": null},
"font": "Open Sans",
"axis": {"grid": false},
"legend": {"labelFont": "Open Sans", "labelFontSize": 24, "labelColor": "#000", "symbolSize": 210, "symbolStrokeWidth": 0, "rowPadding": 10, "labelOffset": 18, "padding": 0}
}
}
